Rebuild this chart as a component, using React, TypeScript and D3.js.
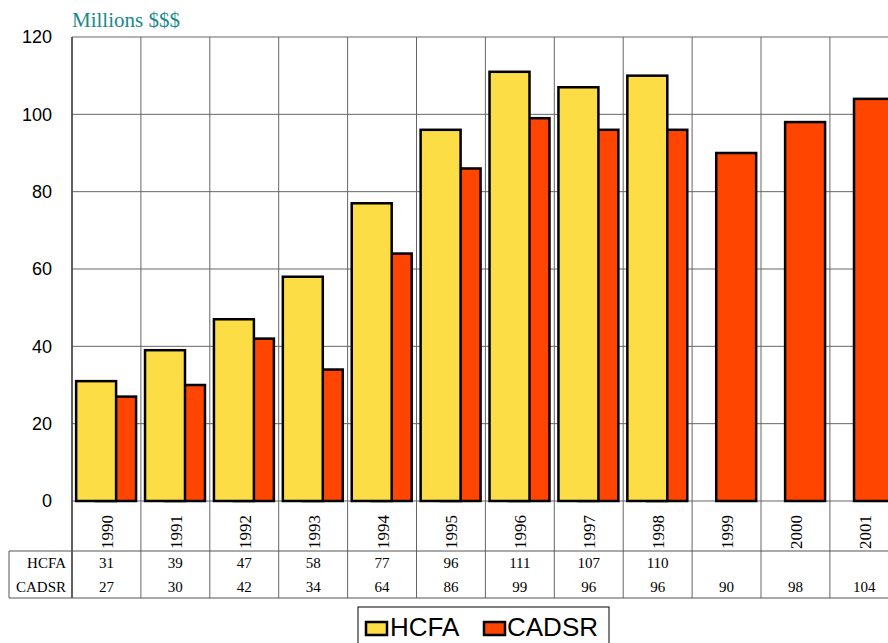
import React from "react";
import * as d3 from "d3";

const years = ["1990","1991","1992","1993","1994","1995","1996","1997","1998","1999","2000","2001"];
const hcfa: (number | null)[] = [31,39,47,58,77,96,111,107,110,null,null,null];
const cadsr: (number | null)[] = [27,30,42,34,64,86,99,96,96,90,98,104];
const yTicks = [0,20,40,60,80,100,120];
const seriesNames = ["HCFA","CADSR"];
const colors = ["#FDDD45","#FF4500"];

export default function App() {
  const W = 888, H = 643;
  const left = 72, top = 37, bottom = 501;
  const step = 68.9;
  const x = d3.scaleBand<string>().domain(years).range([left, left + step * years.length]).paddingInner(0).paddingOuter(0);
  const y = d3.scaleLinear().domain([0, 120]).range([bottom, top]);
  const bw = x.bandwidth();
  const barW = bw * 0.58;
  const tableTop = 551, row1 = 562.5, row2 = 587, tableBottom = 598;
  const right = left + step * years.length;
  const serif = "'Liberation Serif', 'Times New Roman', serif";
  const sans = "'Liberation Sans', Arial, sans-serif";

  return (
    <svg width={W} height={H} style={{ position: "absolute", left: 0, top: 0 }}>
      <rect x={0} y={0} width={W} height={H} fill="#fff" />
      <text x={72} y={27} fontFamily={serif} fontSize={21} fill="#1a8a8a">Millions $$$</text>
      {yTicks.map(t => (
        <line key={"g" + t} x1={left} x2={right} y1={y(t)} y2={y(t)} stroke="#666" strokeWidth={1} />
      ))}
      {years.map(yr => (
        <line key={"v" + yr} x1={x(yr)!} x2={x(yr)!} y1={top} y2={tableBottom} stroke="#666" strokeWidth={1} />
      ))}
      <line x1={left} x2={left} y1={top} y2={tableBottom} stroke="#444" strokeWidth={1.5} />
      <line x1={9} x2={right} y1={tableTop} y2={tableTop} stroke="#555" strokeWidth={1} />
      <line x1={9} x2={right} y1={tableBottom} y2={tableBottom} stroke="#555" strokeWidth={1} />
      <line x1={9} x2={9} y1={tableTop} y2={tableBottom} stroke="#555" strokeWidth={1} />
      {yTicks.map(t => (
        <text key={"t" + t} x={52} y={y(t)} dy="0.35em" textAnchor="end" fontFamily={sans} fontSize={18} fill="#000">{t}</text>
      ))}
      {years.map((yr, i) => {
        const v = cadsr[i];
        if (v == null) return null;
        const x0 = x(yr)! + bw * 0.35;
        return <rect key={"c" + yr} x={x0} y={y(v)} width={barW} height={y(0) - y(v)} fill={colors[1]} stroke="#000" strokeWidth={2.5} />;
      })}
      {years.map((yr, i) => {
        const v = hcfa[i];
        if (v == null) return null;
        const x0 = x(yr)! + bw * 0.06;
        return <rect key={"h" + yr} x={x0} y={y(v)} width={barW} height={y(0) - y(v)} fill={colors[0]} stroke="#000" strokeWidth={2.5} />;
      })}
      {years.map(yr => {
        const cx = x(yr)! + bw / 2;
        return (
          <text key={"y" + yr} transform={`translate(${cx + 6.5},549) rotate(-90)`} textAnchor="start" fontFamily={serif} fontSize={17} fill="#000">{yr}</text>
        );
      })}
      <text x={66} y={row1} dy="0.35em" textAnchor="end" fontFamily={serif} fontSize={15}>{seriesNames[0]}</text>
      <text x={66} y={row2} dy="0.35em" textAnchor="end" fontFamily={serif} fontSize={15}>{seriesNames[1]}</text>
      {years.map((yr, i) => {
        const cx = x(yr)! + bw / 2;
        return (
          <g key={"tv" + yr}>
            {hcfa[i] != null && <text x={cx} y={row1} dy="0.35em" textAnchor="middle" fontFamily={serif} fontSize={15}>{hcfa[i]}</text>}
            {cadsr[i] != null && <text x={cx} y={row2} dy="0.35em" textAnchor="middle" fontFamily={serif} fontSize={15}>{cadsr[i]}</text>}
          </g>
        );
      })}
      <rect x={358} y={607} width={251} height={45} fill="#fff" stroke="#000" strokeWidth={1} />
      <rect x={366} y={622} width={21} height={13} fill={colors[0]} stroke="#000" strokeWidth={2.5} />
      <text x={390} y={636} fontFamily={sans} fontSize={26}>{seriesNames[0]}</text>
      <rect x={484} y={622} width={21} height={13} fill={colors[1]} stroke="#000" strokeWidth={2.5} />
      <text x={507} y={636} fontFamily={sans} fontSize={26}>{seriesNames[1]}</text>
    </svg>
  );
}
